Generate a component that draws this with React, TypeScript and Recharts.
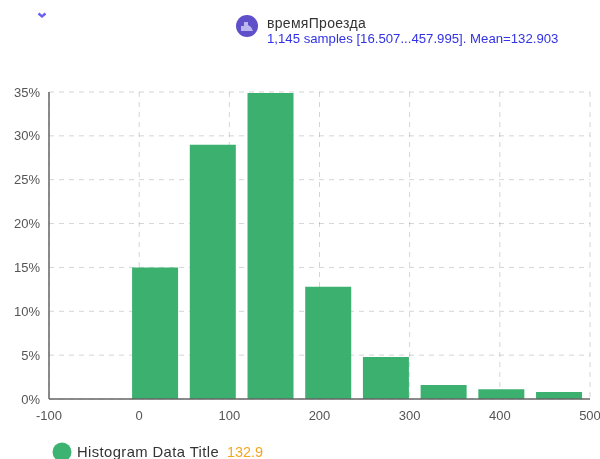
import { Bar, BarChart, CartesianGrid, XAxis, YAxis } from 'recharts'

// bin centres and share of samples
const binCenters = [17.5, 81.5, 145.5, 209.5, 273.5, 337.5, 401.5, 465.5]
const shares = [15, 29, 34.9, 12.8, 4.8, 1.6, 1.1, 0.8]
const xTicks = [-100, 0, 100, 200, 300, 400, 500]
const yTicks = [0, 5, 10, 15, 20, 25, 30, 35]

const data = binCenters.map((x, i) => ({ x, share: shares[i] }))

const font = '"Liberation Sans", Arial, sans-serif'

export default function App () {
  return (
    <div style={{ position: 'absolute', left: 0, top: 0, width: 600, height: 459, overflow: 'hidden', background: '#fff', fontFamily: font, filter: 'blur(0.7px)' }}>
      <svg width={12} height={8} style={{ position: 'absolute', left: 36, top: 12 }}>
        <path d="M2.5 1.5 L6 4.5 L9.5 1.5" fill="none" stroke="#6a60f0" strokeWidth={2.4} />
      </svg>

      <svg width={24} height={24} style={{ position: 'absolute', left: 235, top: 14 }}>
        <circle cx={12} cy={12} r={11} fill="#5f50c9" />
        <path d="M6 17 L6 12 L9 12 L9 8 L13 8 L13 11 L16 13 L18 17 Z" fill="#bdb6ee" />
      </svg>
      <div style={{ position: 'absolute', left: 267, top: 17, fontSize: 14, lineHeight: '12px', letterSpacing: 0.3, color: '#333', whiteSpace: 'nowrap' }}>времяПроезда</div>
      <div style={{ position: 'absolute', left: 267, top: 33, fontSize: 13.2, lineHeight: '12px', color: '#3232e6', whiteSpace: 'nowrap' }}>1,145 samples [16.507...457.995]. Mean=132.903</div>

      <BarChart width={600} height={459} data={data} margin={{ top: 92, right: 10, bottom: 30, left: 8 }} barSize={46}>
        <XAxis
          dataKey="x"
          type="number"
          domain={[-100, 500]}
          ticks={xTicks}
          height={30}
          tickLine={false}
          tickMargin={6}
          allowDataOverflow
          axisLine={{ stroke: '#666', strokeWidth: 1.5 }}
          tick={{ fill: '#555', fontSize: 13, fontFamily: font }}
        />
        <YAxis
          type="number"
          domain={[0, 35]}
          ticks={yTicks}
          width={41}
          interval={0}
          tickLine={false}
          tickSize={3}
          tickMargin={6}
          axisLine={{ stroke: '#666', strokeWidth: 1.5 }}
          tickFormatter={(v: number) => `${v}%`}
          tick={{ fill: '#555', fontSize: 13, fontFamily: font }}
        />
        <Bar dataKey="share" fill="#3bb06f" isAnimationActive={false} />
        <CartesianGrid stroke="rgba(0,0,0,0.17)" strokeDasharray="5 5" />
      </BarChart>

      <svg width={20} height={20} style={{ position: 'absolute', left: 52, top: 442 }}>
        <circle cx={10} cy={10} r={9.5} fill="#3cb371" />
      </svg>
      <div style={{ position: 'absolute', left: 77, top: 446, fontSize: 14.8, lineHeight: '12px', color: '#333', whiteSpace: 'nowrap', letterSpacing: 0.4 }}>
        Histogram Data Title
      </div>
      <div style={{ position: 'absolute', left: 227, top: 446, fontSize: 14.4, lineHeight: '12px', color: '#f5a623', whiteSpace: 'nowrap' }}>132.9</div>
    </div>
  )
}
